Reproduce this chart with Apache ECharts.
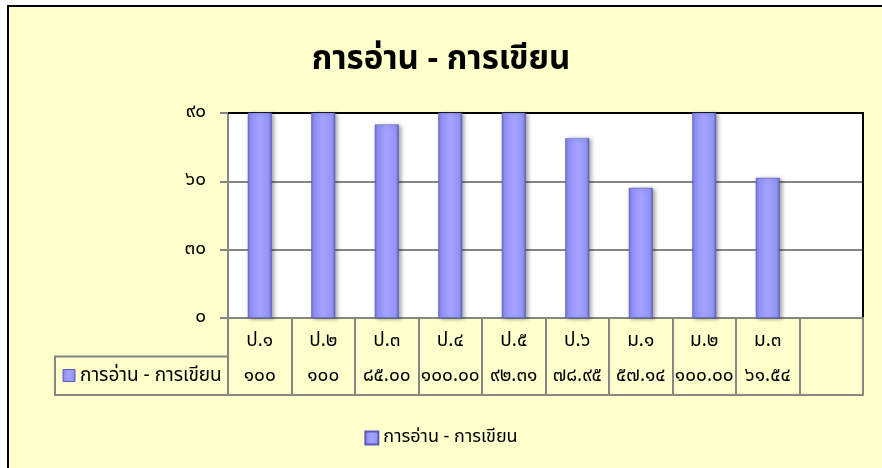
<!DOCTYPE html>
<html>
<head>
<meta charset="utf-8">
<script src="https://cdn.jsdelivr.net/npm/echarts@6/dist/echarts.min.js"></script>
<style>
html,body{margin:0;padding:0;background:#fff;}
#c{width:882px;height:468px;}
</style>
</head>
<body>
<div id="c"></div>
<script>
const titleText = 'การอ่าน - การเขียน';
const seriesName = 'การอ่าน - การเขียน';
const categories = ['ป.๑','ป.๒','ป.๓','ป.๔','ป.๕','ป.๖','ม.๑','ม.๒','ม.๓',''];
const values = [100, 100, 85, 100, 92.31, 78.95, 57.14, 100, 61.54, null];
const tableLabels = ['๑๐๐','๑๐๐','๘๕.๐๐','๑๐๐.๐๐','๙๒.๓๑','๗๘.๙๕','๕๗.๑๔','๑๐๐.๐๐','๖๑.๕๔',''];
const yTicks = [0, 30, 60, 90];

const thaiDigits = '๐๑๒๓๔๕๖๗๘๙';
function toThai(s){ return String(s).replace(/[0-9]/g, d => thaiDigits[+d]); }

const FONT = '"Noto Sans Thai","Tahoma","Noto Sans","DejaVu Sans",sans-serif';
const BG = '#FFFFCC';
const GRIDC = '#868686';
const G = {left:228, top:113, right:19, bottom:150};
const ROW = 38.5;
const TABLE_TOP = 468 - G.bottom;

const barGrad = new echarts.graphic.LinearGradient(0,0,1,0,[
  {offset:0, color:'#6f6fd6'},
  {offset:0.12, color:'#9191f6'},
  {offset:0.5, color:'#a3a3ff'},
  {offset:0.88, color:'#9393f4'},
  {offset:1, color:'#5e5ec0'}
]);

const chart = echarts.init(document.getElementById('c'), null, {renderer:'canvas'});
chart.setOption({
  backgroundColor:'#ffffff',
  animation:false,
  graphic:[
    {type:'rect', z:-10, silent:true, shape:{x:8, y:6, width:890, height:480},
     style:{fill:BG, stroke:'#000', lineWidth:2}},
    {type:'rect', z:5, shape:{x:55, y:TABLE_TOP + ROW, width:G.left-55, height:ROW},
     style:{fill:BG, stroke:GRIDC, lineWidth:2}},
    {type:'rect', z:6, shape:{x:63, y:TABLE_TOP + ROW + 13, width:12, height:12},
     style:{fill:barGrad, stroke:'#5e5ec0', lineWidth:1}},
    {type:'text', z:6, x:80, y:TABLE_TOP + ROW + ROW/2 + 1,
     style:{text:seriesName, font:'19px ' + FONT, fill:'#000', verticalAlign:'middle'}}
  ],
  title:{
    text:titleText, left:'center', top:41,
    textStyle:{fontFamily:FONT, fontSize:33, fontWeight:'bold', color:'#000'}
  },
  legend:{
    bottom:16, left:'center', icon:'rect', itemWidth:13, itemHeight:13, itemGap:4,
    textStyle:{fontFamily:FONT, fontSize:18, color:'#000'},
    data:[seriesName]
  },
  grid:{left:G.left, top:G.top, right:G.right, bottom:G.bottom, show:true, backgroundColor:'#fff', borderWidth:0},
  xAxis:[
    {type:'category', data:categories, position:'bottom', boundaryGap:true,
     axisLine:{show:true, lineStyle:{color:GRIDC, width:2}},
     axisTick:{show:true, interval:0, length:2*ROW, lineStyle:{color:GRIDC, width:2}},
     axisLabel:{interval:0, margin:15, fontFamily:FONT, fontSize:19, color:'#000'}},
    {type:'category', data:tableLabels, position:'bottom', offset:ROW, boundaryGap:true,
     axisLine:{show:true, lineStyle:{color:GRIDC, width:2}},
     axisTick:{show:false},
     axisLabel:{interval:0, margin:11, fontFamily:FONT, fontSize:19, color:'#000'}},
    {type:'category', data:categories, position:'bottom', offset:2*ROW,
     axisLine:{show:true, lineStyle:{color:GRIDC, width:2}},
     axisTick:{show:false}, axisLabel:{show:false}},
    {type:'category', data:categories, position:'top',
     axisLine:{show:true, lineStyle:{color:'#000', width:2}},
     axisTick:{show:false}, axisLabel:{show:false}}
  ],
  yAxis:[
    {type:'value', min:0, max:90, interval:30,
     axisLine:{show:true, lineStyle:{color:GRIDC, width:2}},
     axisTick:{show:true, length:8, lineStyle:{color:GRIDC, width:2}},
     splitLine:{show:true, lineStyle:{color:GRIDC, width:2}},
     axisLabel:{margin:22, fontFamily:FONT, fontSize:19, color:'#000',
       formatter:v => yTicks.indexOf(v) >= 0 ? toThai(v) : ''}},
    {type:'value', min:0, max:90, interval:30, position:'right',
     axisLine:{show:true, lineStyle:{color:'#000', width:2}},
     axisTick:{show:false}, axisLabel:{show:false}, splitLine:{show:false}}
  ],
  series:[{
    name:seriesName, type:'bar', xAxisIndex:0, yAxisIndex:0,
    data:values, barWidth:24, clip:true,
    itemStyle:{color:barGrad, borderColor:'#5a5ab8', borderWidth:0.5,
      shadowColor:'rgba(0,0,0,0.35)', shadowBlur:4, shadowOffsetX:2, shadowOffsetY:1}
  }]
});
</script>
</body>
</html>
